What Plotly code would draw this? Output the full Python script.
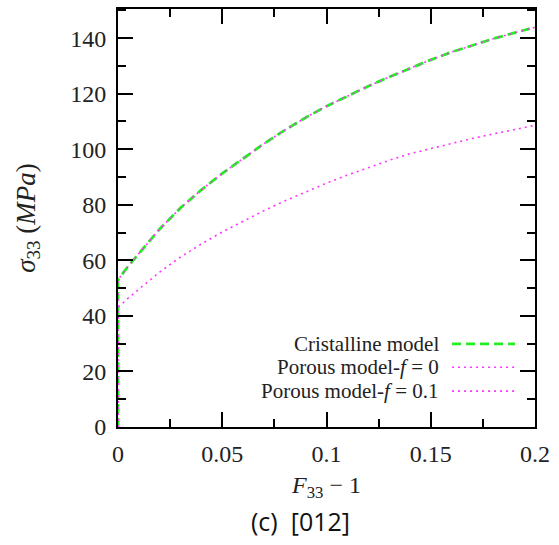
import plotly.graph_objects as go

# ---- data ----
strain = [0, 0, 0.005, 0.01, 0.02, 0.03, 0.04, 0.05, 0.06, 0.07, 0.08, 0.09, 0.10,
          0.11, 0.12, 0.13, 0.14, 0.15, 0.16, 0.17, 0.18, 0.19, 0.20]
stress_cristalline = [0, 53, 58.0, 62.5, 71.3, 78.9, 85.4, 91.3, 96.8, 102.0, 106.9, 111.4, 115.5,
                      119.2, 122.7, 126.0, 129.2, 132.2, 135.0, 137.5, 139.8, 141.9, 143.9]
stress_porous_f0 = [0, 53, 58.0, 62.5, 71.3, 78.9, 85.4, 91.3, 96.8, 102.0, 106.9, 111.4, 115.5,
                    119.2, 122.7, 126.0, 129.2, 132.2, 135.0, 137.5, 139.8, 141.9, 143.9]
stress_porous_f01 = [0, 43, 46.5, 49.7, 55.8, 61.2, 65.9, 70.2, 74.2, 77.9, 81.4, 84.7, 87.8,
                     90.7, 93.4, 96.0, 98.4, 100.3, 102.2, 103.9, 105.5, 107.1, 108.6]

series_names = ["Cristalline model", "Porous model-<i>f</i> = 0", "Porous model-<i>f</i> = 0.1"]
series_colors = ["#22ee22", "#ff33ff", "#ff33ff"]
series_dash = ["9px,5px", "2px,4px", "2px,4px"]
series_width = [2.8, 1.6, 1.6]

x_tickvals = [0, 0.05, 0.1, 0.15, 0.2]
x_ticktext = ["0", "0.05", "0.1", "0.15", "0.2"]
y_tickvals = [0, 20, 40, 60, 80, 100, 120, 140]

caption = "(c)\u00a0\u00a0[012]"

fig = go.Figure()
ys = [stress_cristalline, stress_porous_f0, stress_porous_f01]
for name, y, c, d, w in zip(series_names, ys, series_colors, series_dash, series_width):
    fig.add_trace(go.Scatter(x=strain, y=y, mode="lines", name=name,
                             line=dict(color=c, dash=d, width=w),
                             showlegend=False))

SERIF = "Liberation Serif"
TXT = "#222"
axis_common = dict(showline=True, linecolor="black", linewidth=2, mirror="allticks",
                   ticks="inside", ticklen=15, tickwidth=2, tickcolor="black",
                   showgrid=False, zeroline=False,
                   tickfont=dict(family=SERIF, size=24, color=TXT))

fig.update_xaxes(range=[0, 0.2], tickvals=x_tickvals, ticktext=x_ticktext,
                 minor=dict(dtick=0.025, tick0=0, ticks="inside", ticklen=8, tickwidth=2, tickcolor="black"),
                 title=dict(text="<i>F</i><sub>33</sub> − 1", font=dict(family=SERIF, size=24, color=TXT),
                            standoff=10),
                 ticklabelstandoff=4,
                 **axis_common)
fig.update_yaxes(range=[0, 150.5], tickvals=y_tickvals,
                 minor=dict(dtick=10, tick0=0, ticks="inside", ticklen=8, tickwidth=2, tickcolor="black"),
                 title=dict(text="<i>σ</i><sub>33</sub> (<i>MPa</i>)", font=dict(family=SERIF, size=27, color=TXT),
                            standoff=27),
                 ticklabelstandoff=5,
                 **axis_common)

# manual legend (labels right-aligned, samples on the right, as in the reference)
top_px, bot_px = 7, 426.7
H = bot_px - top_px
L, R = 117.7, 535
W = R - L
def px(x):
    return (x - L) / W
def py(y):
    return (bot_px - y) / H

row_y = [343.3, 366.7, 390.7]
for name, c, d, w, yy in zip(series_names, series_colors, series_dash, series_width, row_y):
    fig.add_annotation(x=px(441), y=py(yy), xref="paper", yref="paper", text=name,
                       showarrow=False, xanchor="right", yanchor="middle",
                       font=dict(family=SERIF, size=21, color=TXT))
    fig.add_shape(type="line", xref="paper", yref="paper",
                  x0=px(452), x1=px(515), y0=py(yy), y1=py(yy),
                  line=dict(color=c, dash=d, width=w))

fig.add_annotation(x=px(300), y=py(521), xref="paper", yref="paper", text=caption,
                   showarrow=False, xanchor="center", yanchor="middle",
                   font=dict(family="Open Sans", size=25, color="#111"))

fig.update_layout(width=559, height=545, paper_bgcolor="white", plot_bgcolor="white",
                  margin=dict(l=118, r=24, t=7, b=118), showlegend=False)

fig.write_html("out.html", config={"displayModeBar": False},
               post_script="document.body.style.margin='0';")
